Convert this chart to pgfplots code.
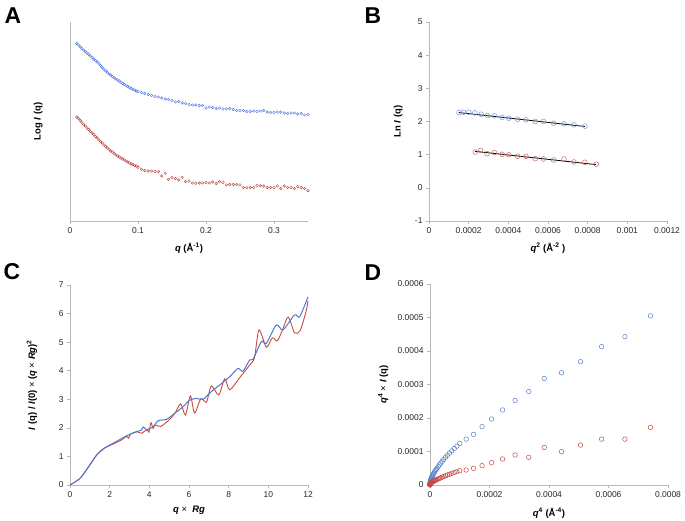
\documentclass[border=0pt]{standalone}
\usepackage{fontspec}
\setmainfont{Liberation Sans}
\usepackage{pgfplots}
\pgfplotsset{compat=1.18}

\definecolor{ablue}{RGB}{75,110,225}
\definecolor{ared}{RGB}{185,60,60}
\definecolor{bblue}{RGB}{120,150,220}
\definecolor{bred}{RGB}{200,105,100}
\definecolor{cblue}{RGB}{70,120,215}
\definecolor{cred}{RGB}{200,75,60}
\definecolor{dblue}{RGB}{85,130,200}
\definecolor{dred}{RGB}{195,75,70}
\definecolor{axgray}{RGB}{185,185,185}

\pgfplotsset{
  panel/.style={
    scale only axis, width=238bp, height=199bp, anchor=south west,
    axis lines=left, axis line style={-, axgray, line width=0.6pt},
    tick align=outside, major tick length=3bp,
    tick style={axgray, line width=0.6pt},
    tick label style={font=\fontsize{8.5}{9}\selectfont, text=black!85},
    label style={font=\fontsize{9.5}{11}\selectfont\bfseries},
    /pgf/number format/assume math mode=true,
    scaled ticks=false, clip=false,
  },
}
\tikzset{letter/.style={font=\fontsize{23}{23}\selectfont\bfseries}}

\begin{document}
\begin{tikzpicture}
\useasboundingbox (0,0) rectangle (685bp,521bp);

% ---- A: log I(q) vs q
\begin{axis}[panel, at={(70bp,300bp)},
  xmin=0, xmax=0.35, ymin=0, ymax=199,
  xtick={0,0.1,0.2,0.3}, xticklabels={0,0.1,0.2,0.3},
  ytick=\empty,
  xlabel={\textit{q} (Å\textsuperscript{-1})},
  ylabel={Log \textit{I} (q)},
  xlabel style={at={(axis description cs:0.5,-0.136)}, anchor=center},
  ylabel style={at={(axis description cs:-0.134,0.5)}, anchor=center},
]
\addplot[only marks, mark=o, mark size=1.3bp, ablue, mark options={line width=0.4pt}] coordinates {
(0.0100,177.5) (0.0125,176.0) (0.0150,174.0) (0.0175,172.5) (0.0200,171.0)
(0.0225,169.5) (0.0250,168.0) (0.0275,166.5) (0.0300,165.0) (0.0325,163.5)
(0.0350,162.0) (0.0375,160.5) (0.0400,159.0) (0.0425,157.5) (0.0450,155.5)
(0.0475,153.5) (0.0500,151.5) (0.0525,150.0) (0.0550,148.5) (0.0575,147.0)
(0.0600,146.0) (0.0625,144.5) (0.0650,143.0) (0.0675,142.0) (0.0700,141.0)
(0.0725,140.0) (0.0750,138.5) (0.0775,137.5) (0.0800,136.5) (0.0825,135.5)
(0.0850,134.5) (0.0875,133.5) (0.0900,132.5) (0.0925,131.5) (0.0950,131.0)
(0.0975,130.0) (0.1000,129.5)
(0.105,128.5) (0.110,127.5) (0.115,126.5) (0.120,125.5) (0.125,124.5)
(0.130,124.0) (0.135,123.0) (0.140,122.0) (0.145,121.5) (0.150,120.5)
(0.155,119.0) (0.160,119.5) (0.165,118.0) (0.170,117.5) (0.175,116.5)
(0.180,116.0) (0.185,116.0) (0.190,115.5) (0.195,115.5) (0.200,113.0)
(0.205,114.0) (0.210,113.5) (0.215,112.5) (0.220,113.0) (0.225,112.0)
(0.230,112.0) (0.235,112.5) (0.240,111.5) (0.245,110.5) (0.250,110.5)
(0.255,110.5) (0.260,109.5) (0.265,109.5) (0.270,110.0) (0.275,109.5)
(0.280,110.0) (0.285,110.5) (0.290,109.0) (0.295,108.5) (0.300,108.5)
(0.305,109.0) (0.310,109.0) (0.315,108.0) (0.320,107.5) (0.325,108.0)
(0.330,108.0) (0.335,107.0) (0.340,107.5) (0.345,106.0) (0.350,106.5)
};
\addplot[only marks, mark=o, mark size=1.3bp, ared, mark options={line width=0.4pt}] coordinates {
(0.0100,104.0) (0.0125,102.5) (0.0150,100.5) (0.0175,98.5) (0.0200,96.5)
(0.0225,95.0) (0.0250,93.0) (0.0275,91.5) (0.0300,89.5) (0.0325,88.0)
(0.0350,86.5) (0.0375,84.5) (0.0400,83.0) (0.0425,81.0) (0.0450,79.5)
(0.0475,78.0) (0.0500,76.0) (0.0525,74.5) (0.0550,73.0) (0.0575,71.5)
(0.0600,70.0) (0.0625,69.0) (0.0650,67.5) (0.0675,66.0) (0.0700,65.0)
(0.0725,64.0) (0.0750,63.0) (0.0775,62.0) (0.0800,61.0) (0.0825,60.0)
(0.0850,59.0) (0.0875,58.0) (0.0900,57.0) (0.0925,56.5) (0.0950,55.5)
(0.0975,55.0) (0.1000,53.7)
(0.105,51.7) (0.110,50.5) (0.115,50.0) (0.120,50.0) (0.125,49.5)
(0.130,49.3) (0.135,45.0) (0.140,47.7) (0.145,41.7) (0.150,43.5)
(0.155,42.5) (0.160,41.0) (0.165,43.7) (0.170,39.3) (0.175,40.0)
(0.180,38.0) (0.185,37.7) (0.190,38.0) (0.195,38.0) (0.200,38.5)
(0.205,38.0) (0.210,39.0) (0.215,37.5) (0.220,39.3) (0.225,38.5)
(0.230,36.0) (0.235,36.5) (0.240,36.5) (0.245,36.5) (0.250,36.0)
(0.255,33.5) (0.260,33.3) (0.265,33.5) (0.270,33.5) (0.275,35.5)
(0.280,35.3) (0.285,35.0) (0.290,33.5) (0.295,33.5) (0.300,33.5)
(0.305,35.0) (0.310,32.5) (0.315,35.0) (0.320,33.5) (0.325,33.5)
(0.330,32.5) (0.335,34.3) (0.340,33.5) (0.345,32.5) (0.350,30.3)
};
\end{axis}

% ---- B: Guinier plot
\begin{axis}[panel, at={(429bp,300bp)},
  xmin=0, xmax=0.0012, ymin=-1, ymax=5,
  xtick={0,0.0002,0.0004,0.0006,0.0008,0.001,0.0012},
  xticklabels={0,0.0002,0.0004,0.0006,0.0008,0.001,0.0012},
  ytick={-1,0,1,2,3,4,5}, yticklabels={-1,0,1,2,3,4,5},
  xlabel={\textit{q}\textsuperscript{2} (Å\textsuperscript{-2} )},
  ylabel={Ln \textit{I} (q)},
  xlabel style={at={(axis description cs:0.5,-0.136)}, anchor=center},
  ylabel style={at={(axis description cs:-0.13,0.5)}, anchor=center},
]
\addplot[only marks, mark=o, mark size=2.4bp, bblue, mark options={line width=0.5pt}] coordinates {
(0.000151,2.27) (0.000174,2.28) (0.000201,2.28) (0.000231,2.26) (0.000263,2.22)
(0.000296,2.18) (0.000330,2.17) (0.000369,2.12) (0.000402,2.10) (0.000447,2.07)
(0.000489,2.05) (0.000536,2.00) (0.000577,2.00) (0.000628,1.95) (0.000681,1.93)
(0.000731,1.90) (0.000786,1.86)
};
\addplot[only marks, mark=o, mark size=2.4bp, bred, mark options={line width=0.5pt}] coordinates {
(0.000233,1.08) (0.000260,1.13) (0.000293,1.03) (0.000330,1.06) (0.000369,1.01)
(0.000402,1.00) (0.000447,0.95) (0.000489,0.95) (0.000536,0.88) (0.000577,0.87)
(0.000628,0.84) (0.000681,0.87) (0.000731,0.78) (0.000786,0.77) (0.000843,0.71)
};
\addplot[black, line width=0.8pt] coordinates {(0.000151,2.27) (0.000786,1.85)};
\addplot[black, line width=0.8pt] coordinates {(0.000233,1.10) (0.000843,0.70)};
\end{axis}

% ---- C: dimensionless Kratky
\begin{axis}[panel, at={(70bp,36bp)}, height=200bp,
  xmin=0, xmax=12, ymin=0, ymax=7,
  xtick={0,2,...,12}, ytick={0,1,...,7},
  xlabel={\textit{q} {\mdseries ×} \ \textit{Rg}},
  ylabel={\textit{I} (q) / \textit{I}(0) {\mdseries ×} (\textit{q} {\mdseries ×} \textit{Rg})\textsuperscript{2}},
  xlabel style={at={(axis description cs:0.5,-0.125)}, anchor=center},
  ylabel style={at={(axis description cs:-0.16,0.5)}, anchor=center},
]
\addplot[cred, line width=0.9pt, smooth, tension=0.45] coordinates {
(0,0) (0.5,0.23) (0.92,0.62) (1.43,1.12) (1.76,1.30) (2.26,1.46) (2.6,1.58)
(2.85,1.70) (2.95,1.64) (3.05,1.78) (3.2,1.83) (3.4,1.86) (3.61,1.81)
(3.75,1.88) (3.91,1.92) (3.98,1.85) (4.08,2.18) (4.19,1.98) (4.28,2.10)
(4.58,2.05) (5.03,2.30) (5.30,2.52) (5.58,2.84) (5.82,2.45) (6.07,3.12)
(6.28,2.52) (6.60,3.02) (6.88,2.90) (7.13,3.47) (7.50,3.15) (7.80,3.72)
(8.05,3.33) (8.55,3.75) (9.06,4.20) (9.30,4.45) (9.53,5.43) (9.90,4.82)
(10.2,5.15) (10.45,5.05) (10.7,5.40) (11.0,5.88) (11.32,5.33) (11.6,5.40)
(11.9,6.07) (12.0,6.45)
};
\addplot[cblue, line width=1pt, smooth, tension=0.45] coordinates {
(0,0) (0.5,0.23) (0.92,0.62) (1.34,1.05) (1.76,1.30) (2.2,1.47) (2.85,1.72)
(3.36,1.87) (3.6,1.92) (3.69,2.03) (3.86,1.94) (4.19,2.04) (4.45,2.25)
(4.87,2.30) (5.28,2.51) (5.70,2.74) (6.04,2.97) (6.38,3.03) (6.71,3.00)
(7.13,3.27) (7.55,3.50) (8.05,3.79) (8.47,4.08) (8.72,3.98) (9.06,4.38)
(9.23,4.40) (9.65,5.02) (9.90,4.96) (10.4,5.60) (10.74,5.43) (11.32,5.95)
(11.58,5.89) (12.0,6.59)
};
\end{axis}

% ---- D: Porod plot
\begin{axis}[panel, at={(430bp,36bp)}, height=201bp,
  xmin=0, xmax=0.0008, ymin=0, ymax=0.0006,
  xtick={0,0.0002,0.0004,0.0006,0.0008},
  xticklabels={0,0.0002,0.0004,0.0006,0.0008},
  ytick={0,0.0001,0.0002,0.0003,0.0004,0.0005,0.0006},
  yticklabels={0,0.0001,0.0002,0.0003,0.0004,0.0005,0.0006},
  xlabel={\textit{q}\textsuperscript{4} (Å\textsuperscript{-4})},
  ylabel={\textit{q}\textsuperscript{4} {\mdseries ×} \textit{I} (q)},
  xlabel style={at={(axis description cs:0.5,-0.14)}, anchor=center},
  ylabel style={at={(axis description cs:-0.197,0.5)}, anchor=center},
]
\addplot[only marks, mark=o, mark size=2.3bp, dblue, mark options={line width=0.5pt}] coordinates {
(0.00000001,0.000001) (0.000000024,0.0000015) (0.00000005,0.000002)
(0.000000094,0.0000025) (0.00000016,0.000003) (0.00000026,0.000004)
(0.00000039,0.000005) (0.00000057,0.0000065) (0.00000081,0.000008)
(0.0000011,0.0000095) (0.0000015,0.000011) (0.000002,0.000013)
(0.00000256,0.000015) (0.0000033,0.000017) (0.0000041,0.000019)
(0.0000051,0.0000215) (0.00000625,0.000024) (0.0000076,0.0000265)
(0.0000092,0.000029) (0.0000109,0.000032) (0.000013,0.000035)
(0.0000153,0.000039) (0.0000179,0.000043) (0.0000208,0.0000465)
(0.000024,0.00005) (0.0000276,0.000055) (0.0000316,0.00006)
(0.0000361,0.0000655) (0.000041,0.000071) (0.0000463,0.000077)
(0.0000522,0.000083) (0.0000586,0.000089) (0.0000656,0.0000955)
(0.0000732,0.000102) (0.0000815,0.000109) (0.0000904,0.000116)
(0.0001,0.000124) (0.0001216,0.000137) (0.0001464,0.000151)
(0.000175,0.000174) (0.000207,0.000197) (0.000244,0.000224)
(0.000286,0.000252) (0.000332,0.000279) (0.000384,0.000318)
(0.000442,0.000335) (0.000506,0.000368) (0.000577,0.000413)
(0.000655,0.000443) (0.000741,0.000505)
};
\addplot[only marks, mark=o, mark size=2.3bp, dred, mark options={line width=0.5pt}] coordinates {
(0.00000001,0.0000006) (0.000000024,0.0000008) (0.00000005,0.000001)
(0.000000094,0.0000011) (0.00000016,0.0000012) (0.00000026,0.0000016)
(0.00000039,0.000002) (0.00000057,0.0000025) (0.00000081,0.000003)
(0.0000011,0.0000036) (0.0000015,0.0000042) (0.000002,0.0000048)
(0.00000256,0.0000055) (0.0000033,0.0000062) (0.0000041,0.000007)
(0.0000051,0.0000078) (0.00000625,0.0000085) (0.0000076,0.0000093)
(0.0000092,0.00001) (0.0000109,0.000011) (0.000013,0.000012)
(0.0000153,0.000013) (0.0000179,0.000014) (0.0000208,0.0000152)
(0.000024,0.0000165) (0.0000276,0.000018) (0.0000316,0.0000195)
(0.0000361,0.0000215) (0.000041,0.0000235) (0.0000463,0.0000255)
(0.0000522,0.0000278) (0.0000586,0.00003) (0.0000656,0.000032)
(0.0000732,0.000035) (0.0000815,0.0000375) (0.0000904,0.00004)
(0.0001,0.0000428) (0.0001216,0.0000448) (0.0001464,0.0000498)
(0.000175,0.0000577) (0.000207,0.0000667) (0.000244,0.0000776)
(0.000286,0.0000896) (0.000332,0.0000826) (0.000384,0.000112)
(0.000442,0.0000994) (0.000506,0.000119) (0.000577,0.000137)
(0.000655,0.000137) (0.000741,0.000172)
};
\end{axis}

% panel letters
\node[letter] at (13bp,505bp) {A};
\node[letter] at (373bp,505bp) {B};
\node[letter] at (12bp,249bp) {C};
\node[letter] at (373bp,248bp) {D};
\end{tikzpicture}
\end{document}
